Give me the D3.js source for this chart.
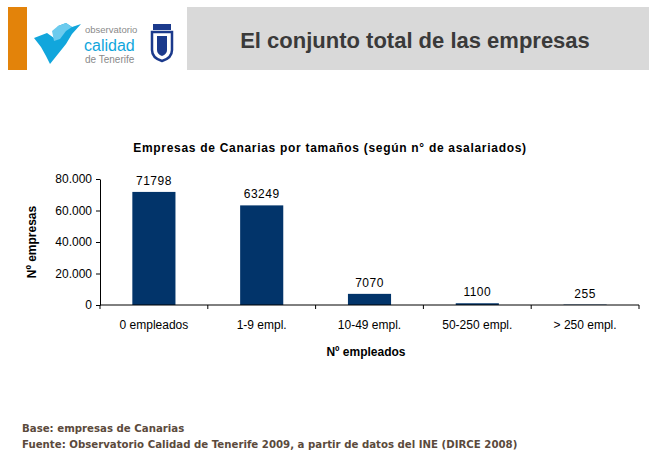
<!DOCTYPE html>
<html><head><meta charset="utf-8">
<script src="https://cdn.jsdelivr.net/npm/d3@7/dist/d3.min.js"></script>
<style>body{margin:0;background:#fff}svg{display:block}</style>
</head><body>
<svg id="c" width="652" height="460"></svg>
<script>
const categories = ["0 empleados","1-9 empl.","10-49 empl.","50-250 empl.","> 250 empl."];
const values = [71798, 63249, 7070, 1100, 255];
const yTicks = [0, 20000, 40000, 60000, 80000];

const svg = d3.select("#c");
// Header
svg.append("rect").attr("x",8).attr("y",7).attr("width",19).attr("height",63).attr("fill","#e3830a");
svg.append("rect").attr("x",187).attr("y",7).attr("width",462).attr("height",63).attr("fill","#d9d9d9");
svg.append("text").attr("x",415).attr("y",48).attr("text-anchor","middle")
  .attr("font-family","Liberation Sans, Arial, sans-serif").attr("font-weight","bold")
  .attr("font-size",22).attr("fill","#3a3a3a").text("El conjunto total de las empresas");

// Logo
const lg = svg.append("g");
lg.append("path").attr("d","M34,38 L47,33 L54,38 L58,26 L66,23 L72,27 L81,24 L72,34 L66,44 L58,54 L50,64 L46,56 L41,47 Z").attr("fill","#11a6dc");
lg.append("path").attr("d","M52,31 L58,26 L66,23 L72,27 L66,31 L60,39 L54,41 Z").attr("fill","#6ccbee");
lg.append("text").attr("x",85).attr("y",33).attr("font-family","Liberation Sans, Arial, sans-serif").attr("font-size",9.5).attr("fill","#8a8a8a").text("observatorio");
lg.append("text").attr("x",84).attr("y",51).attr("font-family","Liberation Sans, Arial, sans-serif").attr("font-size",16).attr("fill","#11a6dc").text("calidad");
lg.append("text").attr("x",85).attr("y",63).attr("font-family","Liberation Sans, Arial, sans-serif").attr("font-size",10).attr("fill","#8a8a8a").text("de Tenerife");
lg.append("path").attr("d","M152,32 L172,32 L172,50 Q172,58 162,61 Q152,58 152,50 Z").attr("fill","none").attr("stroke","#1b3a8c").attr("stroke-width",2.5);
lg.append("rect").attr("x",153).attr("y",24).attr("width",18).attr("height",6).attr("fill","#1b3a8c");
lg.append("path").attr("d","M157,36 L167,36 L167,50 Q167,54 162,56 Q157,54 157,50 Z").attr("fill","#1b3a8c");

// Chart
const x = d3.scaleBand().domain(categories).range([100,639]).paddingInner(0.6).paddingOuter(0.3);
const y = d3.scaleLinear().domain([0,80000]).range([305,179]);
const fmt = d => d3.format(",")(d).replace(/,/g,".");

svg.append("text").attr("x",330).attr("y",152).attr("text-anchor","middle")
  .attr("font-family","Liberation Sans, Arial, sans-serif").attr("font-weight","bold").attr("font-size",12)
  .attr("letter-spacing",0.7).attr("fill","#000").text("Empresas de Canarias por tamaños (según n° de asalariados)");

svg.selectAll("rect.bar").data(values).enter().append("rect").attr("class","bar")
  .attr("x",(d,i)=>x(categories[i])).attr("width",x.bandwidth())
  .attr("y",d=>y(d)).attr("height",d=>y(0)-y(d)).attr("fill","#02346a");

svg.selectAll("text.val").data(values).enter().append("text").attr("class","val")
  .attr("x",(d,i)=>x(categories[i])+x.bandwidth()/2).attr("y",d=>y(d)-7)
  .attr("text-anchor","middle").attr("font-family","Liberation Sans, Arial, sans-serif").attr("font-size",12)
  .attr("letter-spacing",0.5).text(d=>d);

const yAxis = svg.append("g").attr("transform","translate(100,0)")
  .call(d3.axisLeft(y).tickValues(yTicks).tickSize(4).tickSizeOuter(0).tickFormat(fmt).tickPadding(4));
yAxis.selectAll("text").attr("font-family","Liberation Sans, Arial, sans-serif").attr("font-size",12).attr("fill","#000");
yAxis.selectAll("line,path").attr("stroke","#000");

const xb = d3.scaleLinear().domain([0,5]).range([100,639]);
const xAxis = svg.append("g").attr("transform","translate(0,305)");
xAxis.append("line").attr("x1",100).attr("x2",639).attr("stroke","#000");
xAxis.selectAll("line.t").data(d3.range(6)).enter().append("line").attr("class","t")
  .attr("x1",d=>xb(d)).attr("x2",d=>xb(d)).attr("y1",0).attr("y2",4).attr("stroke","#000");
xAxis.selectAll("text").data(categories).enter().append("text")
  .attr("x",d=>x(d)+x.bandwidth()/2).attr("y",24).attr("text-anchor","middle")
  .attr("font-family","Liberation Sans, Arial, sans-serif").attr("font-size",12).text(d=>d);

svg.append("text").attr("x",366).attr("y",356).attr("text-anchor","middle")
  .attr("font-family","Liberation Sans, Arial, sans-serif").attr("font-weight","bold").attr("font-size",12).text("Nº empleados");
svg.append("text").attr("transform","translate(36,242) rotate(-90)").attr("text-anchor","middle")
  .attr("font-family","Liberation Sans, Arial, sans-serif").attr("font-weight","bold").attr("font-size",12).text("Nº empresas");

// Footnotes
const fn = svg.append("g").attr("font-family","DejaVu Sans, Verdana, sans-serif").attr("font-weight","bold").attr("font-size",10.2).attr("fill","#5b4a3c");
fn.append("text").attr("x",22).attr("y",432).text("Base: empresas de Canarias");
fn.append("text").attr("x",22).attr("y",448).text("Fuente: Observatorio Calidad de Tenerife 2009, a partir de datos del INE (DIRCE 2008)");
</script>
</body></html>
